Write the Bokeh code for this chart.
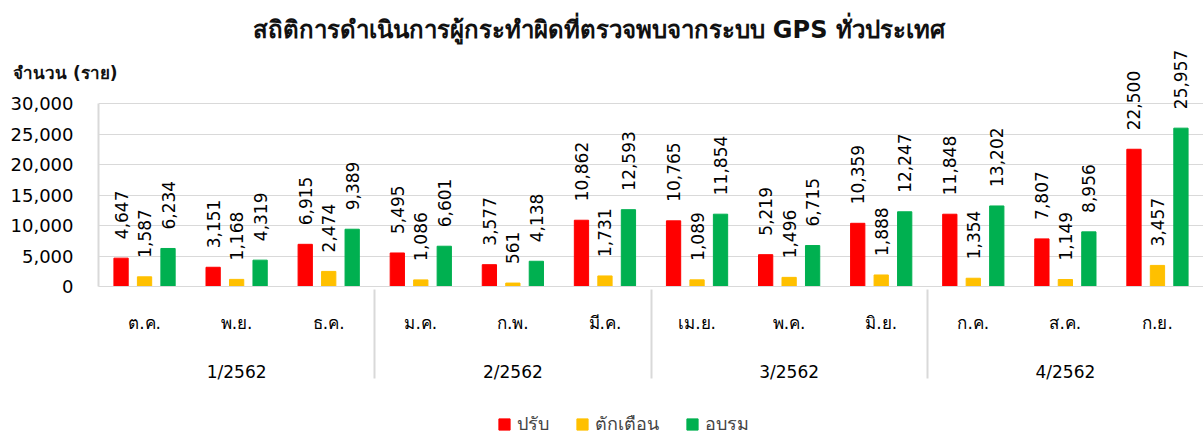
from math import pi
from bokeh.plotting import figure
from bokeh.layouts import column
from bokeh.models import (FactorRange, ColumnDataSource, NumeralTickFormatter,
                          Legend, LegendItem, FixedTicker, LabelSet, LinearAxis)
from bokeh.transform import dodge
from bokeh.core.properties import value
from bokeh.embed import file_html
from bokeh.resources import INLINE

title_text = "สถิติการดำเนินการผู้กระทำผิดที่ตรวจพบจากระบบ GPS ทั่วประเทศ"
y_label = "จำนวน (ราย)"
quarters = ["1/2562", "2/2562", "3/2562", "4/2562"]
months = ["ต.ค.", "พ.ย.", "ธ.ค.", "ม.ค.", "ก.พ.", "มี.ค.",
          "เม.ย.", "พ.ค.", "มิ.ย.", "ก.ค.", "ส.ค.", "ก.ย."]
series_names = ["ปรับ", "ตักเตือน", "อบรม"]
fine = [4647, 3151, 6915, 5495, 3577, 10862, 10765, 5219, 10359, 11848, 7807, 22500]
warn = [1587, 1168, 2474, 1086, 561, 1731, 1089, 1496, 1888, 1354, 1149, 3457]
train = [6234, 4319, 9389, 6601, 4138, 12593, 11854, 6715, 12247, 13202, 8956, 25957]
colors = ["#FF0000", "#FFC000", "#00B050"]
y_ticks = [0, 5000, 10000, 15000, 20000, 25000, 30000]
y_axis_max = 30000

FONT = "DejaVu Sans"

# layout (pixels)
TOP, FRAME_H, BOTTOM = 44, 242, 100           # frame spans y=44..286, data 0..30000 at 286..103
DATA_H = 183
LEFT, FRAME_W = 98, 1105
LEGEND_H = 436 - (TOP + FRAME_H + BOTTOM)
y_top = y_axis_max * FRAME_H / DATA_H          # range end so value labels above 30,000 stay visible
y_lab_pos = int(y_top * (FRAME_H - (72 - TOP)) / FRAME_H)  # height of the "จำนวน (ราย)" caption

factors = [(quarters[i // 3], m) for i, m in enumerate(months)]
src = ColumnDataSource(dict(
    x=factors, fine=fine, warn=warn, train=train,
    fine_t=[f"{v:,}" for v in fine],
    warn_t=[f"{v:,}" for v in warn],
    train_t=[f"{v:,}" for v in train],
))

p = figure(x_range=FactorRange(*factors, group_padding=0, factor_padding=0, range_padding=0),
           y_range=(0, y_top), width=LEFT + FRAME_W, height=TOP + FRAME_H + BOTTOM,
           frame_width=FRAME_W, frame_height=FRAME_H,
           output_backend="svg", toolbar_location=None,
           min_border_left=LEFT, min_border_right=0, min_border_top=TOP, min_border_bottom=BOTTOM)

p.title.text = title_text
p.title.align = "left"
p.title.offset = 154
p.title.standoff = 2
p.title.text_font = FONT
p.title.text_font_size = "24px"
p.title.text_font_style = "bold"
p.title.text_color = "#111111"

keys = ["fine", "warn", "train"]
offs = [-0.255, 0.0, 0.255]
for k, off, c in zip(keys, offs, colors):
    p.vbar(x=dodge("x", off, range=p.x_range), top=k, width=0.155, source=src,
           fill_color=c, line_color=c)
    p.add_layout(LabelSet(x=dodge("x", off, range=p.x_range), y=k, text=k + "_t", source=src,
                          angle=pi / 2, text_align="left", text_baseline="middle", y_offset=19,
                          text_font=value(FONT), text_font_size=value("17px"),
                          text_color=value("#000000")))

p.outline_line_color = None
p.xgrid.grid_line_color = None
p.ygrid.grid_line_color = "#d9d9d9"

ya = p.yaxis[0]
ya.ticker = FixedTicker(ticks=y_ticks)
ya.formatter = NumeralTickFormatter(format="0,0")
ya.bounds = (0, y_axis_max)
ya.axis_line_color = "#d9d9d9"
ya.axis_line_width = 2
ya.major_tick_line_color = None
ya.major_tick_out = 0
ya.major_tick_in = 0
ya.minor_tick_line_color = None
ya.major_label_standoff = 25
ya.major_label_text_font = FONT
ya.major_label_text_font_size = "18px"
ya.major_label_text_color = "#000000"

# caption "จำนวน (ราย)" drawn as the single tick label of a second left axis
cap = LinearAxis(ticker=FixedTicker(ticks=[y_lab_pos]),
                 major_label_overrides={y_lab_pos: y_label},
                 axis_line_color=None, major_tick_line_color=None, minor_tick_line_color=None,
                 major_tick_out=0, major_tick_in=0, major_label_standoff=-110,
                 major_label_text_font=FONT, major_label_text_font_size="17px",
                 major_label_text_font_style="bold", major_label_text_color="#111111")
p.add_layout(cap, "left")

xa = p.xaxis[0]
xa.axis_line_color = "#d9d9d9"
xa.major_tick_line_color = None
xa.major_tick_out = 0
xa.major_tick_in = 0
xa.minor_tick_line_color = None
xa.major_label_orientation = "horizontal"
xa.major_label_standoff = 26
xa.major_label_text_font = FONT
xa.major_label_text_font_size = "17px"
xa.major_label_text_color = "#000000"
xa.group_text_font = FONT
xa.group_text_font_size = "17px"
xa.group_text_font_style = "normal"
xa.group_text_color = "#000000"
xa.separator_line_color = "#d9d9d9"
xa.separator_line_width = 2

# legend strip below the chart: a second figure (its frame is aligned with the chart frame)
lg = figure(width=LEFT + FRAME_W, height=LEGEND_H, output_backend="svg", toolbar_location=None,
            x_axis_type=None, y_axis_type=None, min_border=0, outline_line_color=None)
lg.title.text = ""
# legend swatches only: one undefined (NaN) row so the swatch is drawn but no bar appears
swatch = ColumnDataSource(dict(x=[float("nan")], top=[float("nan")]))
legend_renderers = [lg.vbar(x="x", top="top", width=0.5, source=swatch, fill_color=c, line_color=c)
                    for c in colors]
legend = Legend(items=[LegendItem(label=n, renderers=[r])
                       for n, r in zip(series_names, legend_renderers)],
                orientation="horizontal", location=(399, -2), border_line_color=None,
                background_fill_alpha=0,
                label_text_font=FONT, label_text_font_size="18px", glyph_width=14,
                glyph_height=14, spacing=26, label_standoff=6, padding=0, margin=0)
lg.add_layout(legend, "center")

layout = column(p, lg, spacing=0)
open("out.html", "w").write(file_html(layout, INLINE))
